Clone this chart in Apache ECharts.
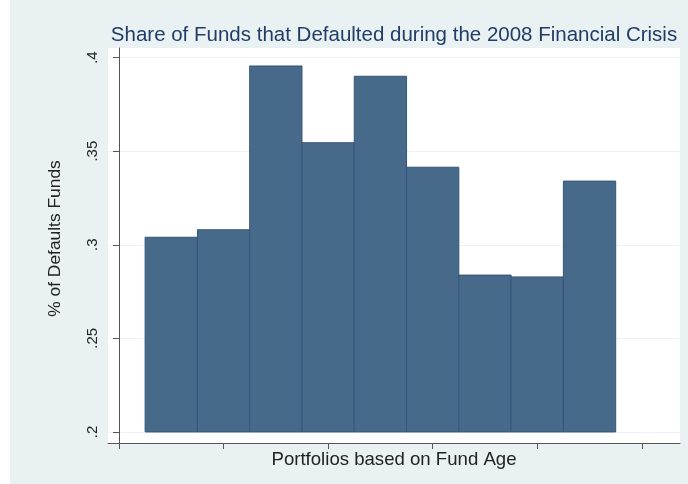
<!DOCTYPE html>
<html>
<head>
<meta charset="utf-8">
<script src="https://cdn.jsdelivr.net/npm/echarts@6/dist/echarts.min.js"></script>
<style>
  html, body { margin: 0; padding: 0; background: #fff; }
  #chart { width: 688px; height: 484px; }
</style>
</head>
<body>
<div id="chart"></div>
<script>
// portfolio number (1 = youngest funds) and share of funds that defaulted
const portfolios = [1, 2, 3, 4, 5, 6, 7, 8, 9];
const defaultShare = [0.304, 0.308, 0.3955, 0.3545, 0.390, 0.3414, 0.2838, 0.2828, 0.334];
const xTicks = [0, 2, 4, 6, 8, 10];
const yTicks = [0.2, 0.25, 0.3, 0.35, 0.4];

const barData = portfolios.map((p, i) => [p, defaultShare[i]]);

const chart = echarts.init(document.getElementById('chart'));

const option = {
  backgroundColor: '#ffffff',
  animation: false,
  graphic: [{
    type: 'rect',
    z: -10,
    silent: true,
    shape: { x: 10, y: 0, width: 678, height: 484 },
    style: { fill: '#eaf1f3' }
  }],
  title: {
    text: 'Share of Funds that Defaulted during the 2008 Financial Crisis',
    left: 389,
    top: 20,
    textAlign: 'center',
    textStyle: {
      fontFamily: 'Liberation Sans',
      fontSize: 20.5,
      fontWeight: 'normal',
      color: '#1f3d66'
    }
  },
  grid: {
    left: 108, right: 8, top: 48, bottom: 41,
    show: true,
    backgroundColor: '#ffffff',
    borderWidth: 0
  },
  xAxis: {
    type: 'value',
    min: -0.21,
    max: 10.73,
    name: 'Portfolios based on Fund Age',
    nameLocation: 'middle',
    nameGap: 7,
    nameTextStyle: { fontFamily: 'Liberation Sans', fontSize: 18.6, color: '#222' },
    axisLine: { show: true, lineStyle: { color: '#555', width: 1 } },
    axisTick: { show: true, length: 6, lineStyle: { color: '#555' }, customValues: xTicks },
    axisLabel: { show: false },
    splitLine: { show: false }
  },
  yAxis: {
    type: 'value',
    min: 0.1941,
    max: 0.4051,
    name: '% of Defaults Funds',
    nameLocation: 'middle',
    nameGap: 44,
    nameTextStyle: {
      fontFamily: 'Liberation Sans', fontSize: 17.4, color: '#222',
      padding: [0, 0, 0, 14]
    },
    axisLine: { show: true, lineStyle: { color: '#555', width: 1 } },
    axisTick: { show: true, length: 6, lineStyle: { color: '#555' }, customValues: yTicks },
    axisLabel: {
      customValues: yTicks,
      rotate: 90,
      margin: 8,
      fontFamily: 'Liberation Sans',
      fontSize: 15,
      color: '#222',
      formatter: v => String(+v.toFixed(2)).replace(/^0/, '')
    },
    splitLine: { show: true, customValues: yTicks, lineStyle: { color: '#eef2f4', width: 1 } }
  },
  series: [{
    type: 'custom',
    data: barData,
    renderItem: (params, api) => {
      const x = api.value(0);
      const v = api.value(1);
      const p0 = api.coord([x - 0.5, 0.2]);
      const p1 = api.coord([x + 0.5, v]);
      return {
        type: 'rect',
        shape: { x: p0[0], y: p1[1], width: p1[0] - p0[0], height: p0[1] - p1[1] },
        style: { fill: '#476a8b', stroke: '#33557a', lineWidth: 1 }
      };
    }
  }]
};

chart.setOption(option);
</script>
</body>
</html>
